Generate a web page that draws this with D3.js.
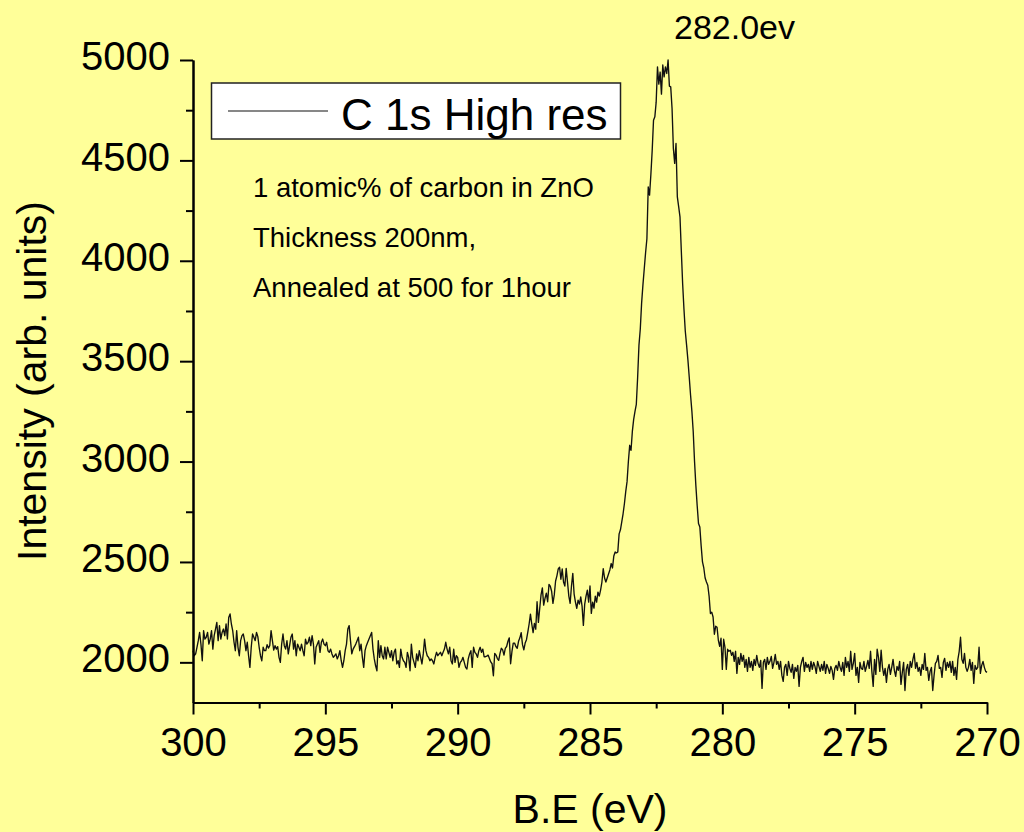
<!DOCTYPE html>
<html><head><meta charset="utf-8">
<script src="https://cdn.jsdelivr.net/npm/d3@7"></script>
<style>html,body{margin:0;padding:0;background:#ffff99;} svg{display:block;}</style>
</head><body><svg id="c" width="1024" height="832"></svg>
<script>
// Binding-energy grid: 300.00 eV down to 270.00 eV, 0.05 eV step
const beStart = 300, beStep = 0.05;
// Intensity (arb. units), one value per grid point
const intensity = [
2058,2033,2042,2075,2108,2149,2091,2008,2158,2116,2125,2149,2091,2116,2158,2066,2133,2166,2199,2108,
2183,2116,2149,2166,2133,2191,2116,2224,2241,2191,2158,2100,2058,2158,2075,2033,2108,2133,2141,2108,
2058,2100,2033,1975,2075,2141,2125,2108,2149,2128,2075,2033,2008,2075,2058,2058,2088,2071,2083,2158,
2108,2061,2083,2066,2078,2025,2000,2091,2141,2083,2066,2108,2042,2083,2125,2141,2066,2108,2033,2091,
2075,2058,2091,2058,2033,2116,2091,2100,2125,2083,2133,2091,1992,2075,2091,2108,2050,2100,2116,2091,
2083,2100,2058,2050,2066,2042,2025,2033,2042,2017,2033,2058,2008,1975,2008,2058,2091,2166,2183,2108,
2042,2066,2078,2091,2108,2125,2058,2091,2025,1975,2058,2083,2100,2116,2133,2149,2066,2017,1983,1958,
2108,2025,2083,2033,2017,2075,2017,2075,2050,2025,2058,2008,2050,2066,1992,2008,1975,2066,2025,2008,
2000,1975,2050,2025,1958,2091,2025,2000,1975,2042,2008,2058,2025,1992,2042,2116,2058,2033,2025,2008,
2017,2008,1992,2025,2050,2033,2042,2050,2033,2050,2066,2100,2066,2042,2075,2008,1992,2066,2000,2033,
2025,1975,2000,2008,2025,2000,1975,1967,2017,2042,2058,1975,2075,2050,2042,2025,2058,2075,2050,2066,
2028,2028,2031,2036,2019,2002,1993,1933,2045,2036,2019,2010,2045,2070,2062,2036,2070,2079,2105,2122,
1993,2053,2096,2096,2079,2070,2105,2122,2148,2088,2062,2096,2113,2150,2191,2240,2191,2148,2194,2165,
2302,2199,2268,2336,2371,2285,2319,2345,2302,2388,2379,2354,2294,2336,2405,2431,2465,2474,2414,2465,
2400,2380,2468,2400,2330,2294,2380,2443,2340,2300,2269,2310,2290,2326,2280,2184,2290,2330,2359,2300,
2380,2244,2300,2270,2330,2300,2350,2330,2360,2400,2467,2420,2400,2420,2440,2460,2492,2470,2530,2550,
2545,2550,2640,2660,2700,2740,2790,2850,2900,3000,3081,3056,3150,3210,3250,3285,3420,3580,3660,3789,
3880,3960,4040,4110,4368,4327,4430,4550,4700,4717,4790,4966,4880,4940,4830,4975,4916,4966,4933,5000,
4870,4866,4760,4560,4485,4584,4318,4270,4219,4050,3887,3760,3650,3580,3505,3420,3330,3250,3150,3000,
2880,2780,2691,2674,2580,2500,2470,2420,2400,2384,2330,2243,2250,2226,2140,2180,2175,2110,2080,2120,
1965,2115,2075,1965,2065,2055,2060,2035,2050,2005,2055,1945,2025,1990,2045,2005,2035,1975,2015,1955,
2025,1975,2005,1960,2015,1985,2035,1995,1975,2010,1870,2000,2015,1965,2025,1990,2005,2030,1970,2000,
2040,1990,2005,1965,2005,1935,1905,1975,1990,1935,2005,1970,1950,1990,1920,1975,1955,1985,1880,1975,
2005,2025,1955,2000,1975,1990,1955,2005,1965,2000,1980,1945,2005,1980,1955,1990,1960,2005,1945,1990,
1970,1945,1980,1960,1915,1970,1985,1960,2005,1975,1955,2000,1935,2025,1975,2005,1955,2055,1965,1995,
2045,1935,1975,1900,2000,1970,1965,2005,1955,1980,2010,1970,2055,1955,1880,2015,1940,2065,2025,1955,
2060,1975,1935,1970,1900,1965,1990,1940,1975,2015,1960,1930,1980,1960,2005,1890,1950,2000,1860,1965,
1990,1935,2005,1975,2015,2045,1970,2000,1955,1975,1935,1990,1965,2045,1960,1975,1910,1955,1975,1860,
1935,1995,2005,2035,1970,1975,1925,2000,2020,1960,2000,1975,2005,1950,2005,1935,1975,1915,2015,2055,
2125,2015,1995,2045,1975,1955,1975,2015,1960,2000,1895,1985,1965,1975,2075,1945,1985,2005,1975,1955,
1950
];
const xMajorTicks = [300, 295, 290, 285, 280, 275, 270];
const xMinorTicks = [297.5, 292.5, 287.5, 282.5, 277.5, 272.5];
const yMajorTicks = [2000, 2500, 3000, 3500, 4000, 4500, 5000];
const yMinorTicks = [2250, 2750, 3250, 3750, 4250, 4750];
const xTitle = "B.E (eV)";
const yTitle = "Intensity (arb. units)";
const legendLabel = "C 1s High res";
const notes = ["1 atomic% of carbon in ZnO", "Thickness 200nm,", "Annealed at 500 for 1hour"];
const peakLabel = "282.0ev";

const font = "'Liberation Sans', Arial, Helvetica, sans-serif";
const svg = d3.select("#c");
svg.append("rect").attr("width", 1024).attr("height", 832).attr("fill", "#ffff99");

const x = d3.scaleLinear().domain([300, 270]).range([193, 987]);
const y = d3.scaleLinear().domain([1800, 5000]).range([702.5, 60]);

const data = intensity.map((v, i) => ({ e: beStart - i * beStep, v }));

// curve
svg.append("path").datum(data)
  .attr("fill", "none").attr("stroke", "#111").attr("stroke-width", 1.35)
  .attr("stroke-linejoin", "round")
  .attr("d", d3.line().x(d => x(d.e)).y(d => y(d.v)));

function styleAxis(g, size) {
  g.selectAll("path.domain").attr("stroke", "#000").attr("stroke-width", 2);
  g.selectAll(".tick line").attr("stroke", "#000").attr("stroke-width", 2);
  g.selectAll(".tick text").attr("fill", "#000").attr("font-family", font).attr("font-size", size);
}

// x axis
const gx = svg.append("g").attr("transform", "translate(0,702.5)")
  .call(d3.axisBottom(x).tickValues(xMajorTicks).tickSize(12).tickSizeOuter(0).tickPadding(13).tickFormat(d3.format("d")));
styleAxis(gx, 40);
const gxm = svg.append("g").attr("transform", "translate(0,702.5)")
  .call(d3.axisBottom(x).tickValues(xMinorTicks).tickSize(6).tickSizeOuter(0).tickFormat(""));
styleAxis(gxm, 40);

// y axis
const gy = svg.append("g").attr("transform", "translate(193,0)")
  .call(d3.axisLeft(y).tickValues(yMajorTicks).tickSize(13).tickSizeOuter(0).tickPadding(10).tickFormat(d3.format("d")));
styleAxis(gy, 40);
gy.selectAll(".tick text").attr("dy", "0.24em");
const gym = svg.append("g").attr("transform", "translate(193,0)")
  .call(d3.axisLeft(y).tickValues(yMinorTicks).tickSize(7).tickSizeOuter(0).tickFormat(""));
styleAxis(gym, 40);

// axis titles
svg.append("text").attr("x", 590).attr("y", 823).attr("text-anchor", "middle")
  .attr("font-family", font).attr("font-size", 41).text(xTitle);
svg.append("text").attr("transform", "translate(46,381) rotate(-90)").attr("text-anchor", "middle")
  .attr("font-family", font).attr("font-size", 41).text(yTitle);

// legend
svg.append("rect").attr("x", 211.5).attr("y", 83).attr("width", 409).attr("height", 56)
  .attr("fill", "#fff").attr("stroke", "#222").attr("stroke-width", 1.5);
svg.append("line").attr("x1", 228).attr("x2", 328).attr("y1", 111).attr("y2", 111)
  .attr("stroke", "#111").attr("stroke-width", 1.2);
svg.append("text").attr("x", 341).attr("y", 129.5).attr("font-family", font).attr("font-size", 44)
  .text(legendLabel);

// notes
svg.selectAll("text.note").data(notes).join("text").attr("class", "note")
  .attr("x", 253).attr("y", (d, i) => 196.5 + i * 50)
  .attr("font-family", font).attr("font-size", 27.5).text(d => d);

// peak label
svg.append("text").attr("x", 674).attr("y", 38.5).attr("font-family", font).attr("font-size", 34)
  .text(peakLabel);
</script>
</body></html>
